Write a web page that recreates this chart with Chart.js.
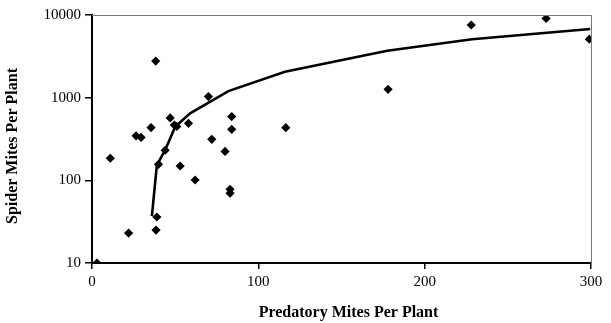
<!DOCTYPE html>
<html>
<head>
<meta charset="utf-8">
<title>Spider mites vs predatory mites</title>
<script src="https://cdn.jsdelivr.net/npm/chart.js@4.4.0/dist/chart.umd.min.js"></script>
<style>
    html, body { margin: 0; padding: 0; background: #fff; }
    #wrap { width: 611px; height: 323px; }
</style>
</head>
<body>
<div id="wrap"><canvas id="chart" width="611" height="323"></canvas></div>
<script>
// ========================================
// DATA
// ========================================
const predatorX = [3, 11, 22, 26.5, 29.5, 35.5, 38.5, 39, 40, 38.3, 44, 47, 49.5, 51, 53, 58, 62, 70, 72, 80, 83, 83, 84, 84, 116.5, 178, 228, 273, 299];
const spiderY = [10, 185, 23, 345, 330, 435, 25, 36, 156, 2770, 231, 568, 467, 448, 149, 490, 101, 1030, 313, 224, 78, 70, 590, 414, 433, 1260, 7570, 9100, 5100];

const fitX = [36, 39, 44, 50, 59, 82, 116, 177.5, 228.5, 299.5];
const fitY = [37, 153, 233, 446, 647, 1200, 2060, 3700, 5080, 6760];

const xTicks = [0, 100, 200, 300];
const yTicks = [10, 100, 1000, 10000];

const xTitle = 'Predatory Mites Per Plant';
const yTitle = 'Spider Mites Per Plant';

const FONT = '"Liberation Serif", "Times New Roman", serif';

function toPoints(xs, ys) {
    return xs.map((x, i) => ({ x: x, y: ys[i] }));
}

// thin frame on top / right like the original plot box
const frameBox = {
    id: 'frameBox',
    afterDraw(chart) {
        const { ctx, chartArea: a } = chart;
        ctx.save();
        ctx.strokeStyle = '#777';
        ctx.lineWidth = 1;
        ctx.beginPath();
        ctx.moveTo(a.left, a.top + 0.5);
        ctx.lineTo(a.right + 0.5, a.top + 0.5);
        ctx.lineTo(a.right + 0.5, a.bottom);
        ctx.stroke();
        ctx.restore();
    }
};

// axis titles, placed where the original has them (a bit off-centre)
const axisTitles = {
    id: 'axisTitles',
    afterDraw(chart) {
        const { ctx, chartArea: a } = chart;
        ctx.save();
        ctx.fillStyle = '#000';
        ctx.font = 'bold 16px ' + FONT;
        ctx.textAlign = 'center';
        ctx.textBaseline = 'middle';
        ctx.fillText(xTitle, (a.left + a.right) / 2 + 7, 313);

        ctx.translate(13, (a.top + a.bottom) / 2 + 7);
        ctx.rotate(-Math.PI / 2);
        ctx.fillText(yTitle, 0, 0);
        ctx.restore();
    }
};

new Chart(document.getElementById('chart'), {
    type: 'scatter',
    data: {
        datasets: [
            {
                label: 'Observed',
                data: toPoints(predatorX, spiderY),
                pointStyle: 'rectRot',
                pointRadius: 4.6,
                backgroundColor: '#000',
                borderColor: '#000',
                borderWidth: 0,
                order: 2
            },
            {
                label: 'Fit',
                data: toPoints(fitX, fitY),
                showLine: true,
                pointRadius: 0,
                borderColor: '#000',
                borderWidth: 2.6,
                tension: 0,
                order: 1
            }
        ]
    },
    options: {
        responsive: false,
        animation: false,
        devicePixelRatio: 1,
        layout: { padding: { top: 15, right: 20, left: 0, bottom: 0 } },
        plugins: {
            legend: { display: false },
            tooltip: { enabled: false }
        },
        scales: {
            x: {
                type: 'linear',
                min: 0,
                max: 300,
                afterBuildTicks: s => { s.ticks = xTicks.map(v => ({ value: v })); },
                afterFit: s => { s.height = 60; },
                border: { color: '#000', width: 2 },
                grid: { drawOnChartArea: false, drawTicks: true, tickLength: 6, color: '#000', lineWidth: 1.5 },
                ticks: { color: '#000', padding: 4, font: { family: FONT, size: 15 } }
            },
            y: {
                type: 'logarithmic',
                min: 10,
                max: 10000,
                afterBuildTicks: s => { s.ticks = yTicks.map(v => ({ value: v })); },
                afterFit: s => { s.width = 92; },
                border: { color: '#000', width: 2 },
                grid: { drawOnChartArea: false, drawTicks: true, tickLength: 7, color: '#000', lineWidth: 1.5 },
                ticks: {
                    color: '#000',
                    padding: 4,
                    font: { family: FONT, size: 15 },
                    callback: v => String(v)
                }
            }
        }
    },
    plugins: [frameBox, axisTitles]
});
</script>
</body>
</html>
